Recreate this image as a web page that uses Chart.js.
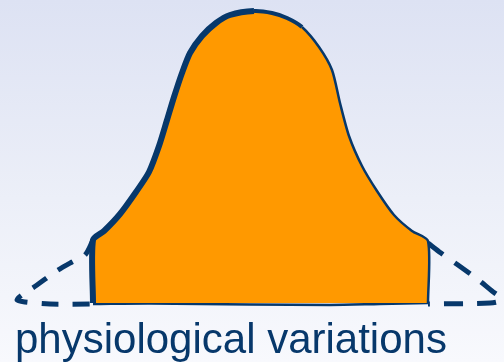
<!DOCTYPE html>
<html>
<head>
<meta charset="utf-8">
<script src="https://cdn.jsdelivr.net/npm/chart.js@4.4.1/dist/chart.umd.min.js"></script>
<style>
  html, body { margin: 0; padding: 0; }
  body {
    width: 504px; height: 362px; overflow: hidden;
    background: linear-gradient(to bottom, #dde2f3 0%, #eceff8 55%, #f8f9fd 100%);
  }
  #wrap { position: relative; width: 504px; height: 362px; }
</style>
</head>
<body>
<div id="wrap"><canvas id="bell"></canvas></div>
<script>
// hand-drawn normal curve: central (normal) range filled, tails dashed
const bellX = [93, 93, 104, 120, 136, 149, 159, 167, 174, 182, 190, 202, 216, 230, 254, 272, 287, 302, 319, 332, 340, 349, 362, 377, 394, 412, 428, 428];
const bellY = [0, 63, 72, 89, 111, 131, 157, 183, 206, 230, 250, 267, 280, 288, 292, 290, 285, 276, 256, 233, 200, 167, 137, 112, 88, 72, 62, 0];

const baseX = [93, 150, 250, 330, 380, 428];
const baseY = [-1, -0.5, -1.5, -2, -1, 0];

const leftTailX = [93, 85, 72, 55, 37, 22, 17, 25, 50, 93];
const leftTailY = [63, 48, 41, 31, 18, 8, 3, 1, -1, -1];

const rightTailX = [428, 441, 458, 476, 492, 501, 500, 490, 428];
const rightTailY = [60, 50, 38, 25, 12, 5, 2, 0, -1];

const caption = 'physiological variations';

const navy = '#07386b';
const orange = '#ff9900';

const toPoints = (xs, ys) => xs.map((x, i) => ({ x: x, y: ys[i] }));

// left flank was traced with a heavier stroke than the right one
const flankWidth = ctx => {
  const x = (ctx.p0.parsed.x + ctx.p1.parsed.x) / 2;
  if (x < 245) return 6;
  if (x < 300) return 4;
  return 2.5;
};

new Chart(document.getElementById('bell'), {
  type: 'line',
  data: {
    datasets: [
      {
        data: toPoints(bellX, bellY),
        borderColor: navy,
        borderWidth: 3,
        backgroundColor: orange,
        fill: 'origin',
        tension: 0.25,
        pointRadius: 0,
        segment: { borderWidth: flankWidth }
      },
      {
        data: toPoints(baseX, baseY),
        borderColor: navy,
        borderWidth: 2.5,
        tension: 0.3,
        fill: false,
        pointRadius: 0
      },
      {
        data: toPoints(leftTailX, leftTailY),
        borderColor: navy,
        borderWidth: 5,
        borderDash: [17, 14],
        tension: 0.3,
        fill: false,
        pointRadius: 0
      },
      {
        data: toPoints(rightTailX, rightTailY),
        borderColor: navy,
        borderWidth: 5,
        borderDash: [19, 14],
        tension: 0.3,
        fill: false,
        pointRadius: 0
      }
    ]
  },
  options: {
    responsive: true,
    maintainAspectRatio: false,
    animation: false,
    clip: false,
    layout: { padding: { left: 15, right: 0, top: 0, bottom: 0 } },
    plugins: {
      legend: { display: false },
      tooltip: { enabled: false },
      title: {
        display: true,
        text: caption,
        position: 'bottom',
        align: 'start',
        color: navy,
        font: { family: '"Liberation Sans", Arial, sans-serif', size: 42, weight: 'normal', lineHeight: 1 },
        padding: { top: 0, bottom: 0 }
      }
    },
    scales: {
      x: { type: 'linear', min: 15, max: 504, display: false },
      y: { type: 'linear', min: -17, max: 303, display: false }
    }
  }
});
</script>
</body>
</html>
